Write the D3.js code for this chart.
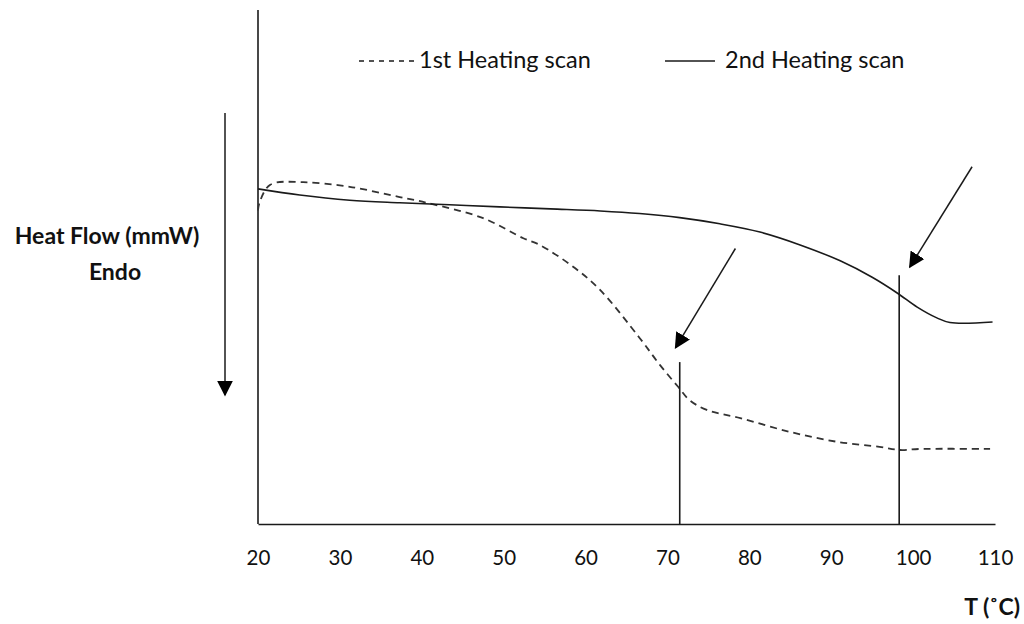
<!DOCTYPE html>
<html>
<head>
<meta charset="utf-8">
<script src="https://cdn.jsdelivr.net/npm/d3@7"></script>
<style>
  body { margin: 0; background: #fff; }
  svg { display: block; font-family: Lato, "Open Sans", sans-serif; }
</style>
</head>
<body>
<svg id="chart" width="1024" height="624"></svg>
<script>
// temperature (°C) and heat flow (arbitrary units)
var scan1T = [20.0, 20.2, 21.5, 25.5, 31.2, 37.3, 40.6, 47.5, 52.4, 54.4, 58.7, 61.8, 66.6, 69.1, 71.3, 72.7, 74.8, 78.9, 85.0, 90.7, 95.9, 98.4, 100.8, 109.4];
var scan1Q = [61.0, 62.6, 66.0, 66.5, 65.6, 63.6, 62.5, 59.5, 55.6, 54.3, 49.8, 45.5, 36.2, 30.9, 26.7, 24.1, 22.2, 20.6, 17.9, 16.0, 15.0, 14.4, 14.6, 14.6];

var scan2T = [20.0, 25.1, 31.2, 37.3, 43.4, 49.5, 55.7, 61.8, 66.6, 71.5, 76.4, 81.3, 86.2, 91.1, 95.0, 98.1, 100.5, 102.9, 104.5, 109.7];
var scan2Q = [65.2, 64.0, 63.0, 62.5, 62.1, 61.7, 61.3, 60.9, 60.4, 59.6, 58.4, 56.8, 54.3, 51.2, 48.0, 44.9, 42.2, 40.1, 39.2, 39.3];

var xTicks = [20, 30, 40, 50, 60, 70, 80, 90, 100, 110];

// transition markers: [T, top of line]
var markerT = [71.5, 98.3];
var markerTop = [31.5, 48.4];
// arrows: start point -> tip
var arrowFrom = [[78.3, 53.6], [107.2, 69.5]];
var arrowTo = [[71.0, 34.3], [99.6, 50.0]];

var legendNames = ["1st Heating scan", "2nd Heating scan"];

var svg = d3.select("#chart");
var x = d3.scaleLinear().domain([20, 110]).range([258, 995]);
var y = d3.scaleLinear().domain([0, 100]).range([524, 10]);

var ink = "#1a1a1a";

svg.append("defs").append("marker")
    .attr("id", "head")
    .attr("viewBox", "0 0 10 10")
    .attr("refX", 9).attr("refY", 5)
    .attr("markerWidth", 16).attr("markerHeight", 16)
    .attr("markerUnits", "userSpaceOnUse")
    .attr("orient", "auto")
  .append("path")
    .attr("d", "M0,0 L10,5 L0,10 z")
    .attr("fill", "#000");

// axes (no tick marks, only labels)
var xAxis = d3.axisBottom(x).tickValues(xTicks).tickSize(0).tickPadding(26);
var gx = svg.append("g")
    .attr("transform", "translate(0,524)")
    .call(xAxis);
gx.select(".domain").attr("stroke", ink).attr("stroke-width", 1.6);
gx.selectAll("text").attr("font-size", 20.5).attr("fill", "#111").attr("font-family", "Lato, sans-serif");

svg.append("line")
    .attr("x1", x(20)).attr("x2", x(20))
    .attr("y1", y(100)).attr("y2", y(0))
    .attr("stroke", ink).attr("stroke-width", 1.6);

// curves
var line = d3.line()
    .x(function(d) { return x(d[0]); })
    .y(function(d) { return y(d[1]); })
    .curve(d3.curveCatmullRom.alpha(0.5));

svg.append("path")
    .attr("d", line(d3.zip(scan1T, scan1Q)))
    .attr("fill", "none")
    .attr("stroke", "#333")
    .attr("stroke-width", 1.8)
    .attr("stroke-dasharray", "7 5");

svg.append("path")
    .attr("d", line(d3.zip(scan2T, scan2Q)))
    .attr("fill", "none")
    .attr("stroke", ink)
    .attr("stroke-width", 1.6);

// vertical markers
markerT.forEach(function(t, i) {
  svg.append("line")
      .attr("x1", x(t)).attr("x2", x(t))
      .attr("y1", y(markerTop[i])).attr("y2", y(0))
      .attr("stroke", ink).attr("stroke-width", 1.6);
});

// arrows
arrowFrom.forEach(function(a, i) {
  svg.append("line")
      .attr("x1", x(a[0])).attr("y1", y(a[1]))
      .attr("x2", x(arrowTo[i][0])).attr("y2", y(arrowTo[i][1]))
      .attr("stroke", ink).attr("stroke-width", 1.5)
      .attr("marker-end", "url(#head)");
});

// y label with downward arrow
svg.append("line")
    .attr("x1", 225).attr("x2", 225)
    .attr("y1", 113).attr("y2", 395)
    .attr("stroke", ink).attr("stroke-width", 1.5)
    .attr("marker-end", "url(#head)");

svg.append("text")
    .attr("x", 107).attr("y", 244)
    .attr("text-anchor", "middle")
    .attr("font-size", 23).attr("font-weight", "bold").attr("fill", "#111")
    .text("Heat Flow (mmW)");
svg.append("text")
    .attr("x", 115).attr("y", 280)
    .attr("text-anchor", "middle")
    .attr("font-size", 23).attr("font-weight", "bold").attr("fill", "#111")
    .text("Endo");

svg.append("text")
    .attr("x", 1020).attr("y", 615)
    .attr("text-anchor", "end")
    .attr("font-size", 23).attr("font-weight", "bold").attr("fill", "#111")
    .text("T (˚C)");

// legend
var legX = [359, 665];
legendNames.forEach(function(name, i) {
  svg.append("line")
      .attr("x1", legX[i]).attr("x2", legX[i] + (i === 0 ? 57 : 50))
      .attr("y1", 61).attr("y2", 61)
      .attr("stroke", ink).attr("stroke-width", 1.5)
      .attr("stroke-dasharray", i === 0 ? "5 5" : null);
  svg.append("text")
      .attr("x", legX[i] + 60).attr("y", 68)
      .attr("font-size", 23.5).attr("fill", "#111")
      .text(name);
});
</script>
</body>
</html>
